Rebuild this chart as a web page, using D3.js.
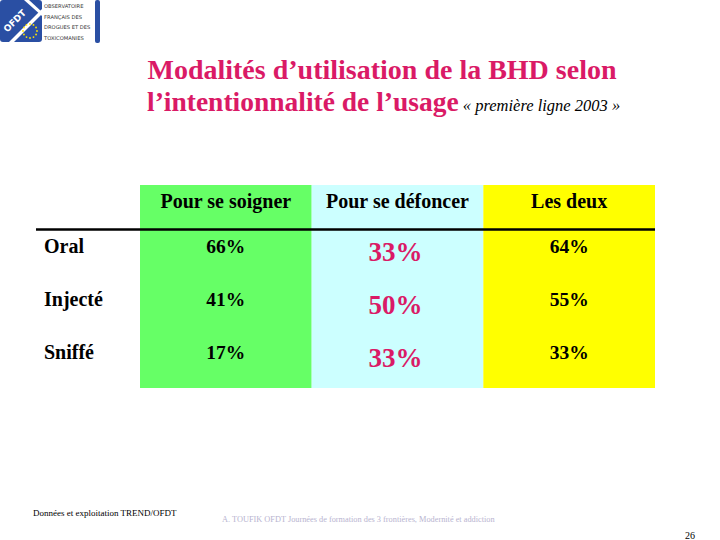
<!DOCTYPE html>
<html>
<head>
<meta charset="utf-8">
<script src="https://cdn.jsdelivr.net/npm/d3@7"></script>
<style>
  html, body { margin: 0; padding: 0; background: #fff; }
  svg { display: block; }
  .serif { font-family: "Liberation Serif", "DejaVu Serif", serif; }
  .sans { font-family: "DejaVu Sans", sans-serif; }
</style>
</head>
<body>
<svg id="chart" width="720" height="540"></svg>
<script>
// ---- Data ----
const columns = ["Pour se soigner", "Pour se défoncer", "Les deux"];
const rowLabels = ["Oral", "Injecté", "Sniffé"];
const soigner = [66, 41, 17];
const defoncer = [33, 50, 33];
const lesDeux = [64, 55, 33];
const columnColors = ["#66ff66", "#ccffff", "#ffff00"];
const titleLine1 = "Modalités d’utilisation de la BHD selon";
const titleLine2 = "l’intentionnalité de l’usage";
const titleNote = "« première ligne 2003 »";
const sourceNote = "Données et exploitation TREND/OFDT";
const footerNote = "A. TOUFIK OFDT Journées de formation des 3 frontières, Modernité et addiction";
const pageNumber = "26";
const logoLines = ["OBSERVATOIRE", "FRANÇAIS DES", "DROGUES ET DES", "TOXICOMANIES"];

const series = [soigner, defoncer, lesDeux];
const pink = "#da1a66";

const svg = d3.select("#chart");

// ---- Scales ----
const x = d3.scaleBand().domain(columns).range([140, 655]).paddingInner(0);
const y = d3.scaleBand().domain(rowLabels).range([229, 388]).paddingInner(0);
const headerTop = 185;

// ---- Column backgrounds ----
svg.selectAll("rect.col").data(columns).join("rect")
  .attr("class", "col")
  .attr("x", d => x(d))
  .attr("y", headerTop)
  .attr("width", x.bandwidth())
  .attr("height", y.range()[1] - headerTop)
  .attr("fill", (d, i) => columnColors[i]);

// ---- Header labels ----
svg.selectAll("text.head").data(columns).join("text")
  .attr("class", "head serif")
  .attr("x", d => x(d) + x.bandwidth() / 2)
  .attr("y", 208)
  .attr("text-anchor", "middle")
  .attr("font-weight", "bold")
  .attr("font-size", 20)
  .attr("fill", "#000")
  .text(d => d);

// ---- Header rule ----
svg.append("line")
  .attr("x1", 36).attr("x2", x.range()[1])
  .attr("y1", 229.5).attr("y2", 229.5)
  .attr("stroke", "#000").attr("stroke-width", 2.5);

// ---- Row labels ----
svg.selectAll("text.rowlab").data(rowLabels).join("text")
  .attr("class", "rowlab serif")
  .attr("x", 44)
  .attr("y", d => y(d) + 24)
  .attr("font-weight", "bold")
  .attr("font-size", 20)
  .attr("fill", "#000")
  .text(d => d);

// ---- Cell values ----
const cells = [];
series.forEach((vals, ci) => {
  vals.forEach((v, ri) => cells.push({ col: columns[ci], row: rowLabels[ri], v, ci }));
});
svg.selectAll("text.cell").data(cells).join("text")
  .attr("class", "cell serif")
  .attr("x", d => x(d.col) + x.bandwidth() / 2 + (d.ci === 1 ? -2 : 0))
  .attr("y", d => y(d.row) + (d.ci === 1 ? 32 : 24))
  .attr("text-anchor", "middle")
  .attr("font-weight", "bold")
  .attr("font-size", d => d.ci === 1 ? 27 : 19.5)
  .attr("fill", d => d.ci === 1 ? pink : "#000")
  .text(d => d.v + "%");

// ---- Title ----
svg.append("text")
  .attr("class", "serif")
  .attr("x", 382).attr("y", 79)
  .attr("text-anchor", "middle")
  .attr("font-weight", "bold").attr("font-size", 28)
  .attr("fill", pink)
  .text(titleLine1);
const t2 = svg.append("text")
  .attr("class", "serif")
  .attr("x", 147).attr("y", 111);
t2.append("tspan").attr("font-weight", "bold").attr("font-size", 27.5).attr("fill", pink).text(titleLine2);
t2.append("tspan").attr("font-style", "italic").attr("font-size", 16.5).attr("fill", "#000").text(" " + titleNote);

// ---- Logo ----
const logo = svg.append("g");
logo.append("rect").attr("x", 0).attr("y", 0).attr("width", 42).attr("height", 42).attr("rx", 3).attr("fill", "#2a4fa3");
logo.append("path").attr("d", "M9,42 L42,9 L42,14 L14,42 Z").attr("fill", "#fff");
logo.append("path").attr("d", "M24,0 L29,0 L42,12 L42,16 Z").attr("fill", "#fff");
logo.append("text").attr("class", "sans").attr("transform", "translate(17,23) rotate(-45)")
  .attr("font-weight", "bold").attr("font-size", 9)
  .attr("fill", "#fff").attr("text-anchor", "middle").text("OFDT");
const starCx = 30, starCy = 31, starR = 7;
d3.range(12).forEach(i => {
  const a = i / 12 * 2 * Math.PI;
  logo.append("circle").attr("cx", starCx + starR * Math.cos(a)).attr("cy", starCy + starR * Math.sin(a))
    .attr("r", 0.9).attr("fill", "#ffe600");
});
logoLines.forEach((l, i) => {
  logo.append("text").attr("class", "sans").attr("x", 44).attr("y", 8 + i * 10.5)
    .attr("font-size", 5.2).attr("fill", "#333")
    .text(l);
});
logo.append("rect").attr("x", 95).attr("y", 0).attr("width", 5).attr("height", 43).attr("rx", 2).attr("fill", "#2a4fa3");

// ---- Footer ----
svg.append("text").attr("class", "serif").attr("x", 33).attr("y", 516)
  .attr("font-size", 9).attr("fill", "#000").text(sourceNote);
svg.append("text").attr("class", "serif").attr("x", 222).attr("y", 522)
  .attr("font-size", 8.3).attr("fill", "#b8b4d0").text(footerNote);
svg.append("text").attr("class", "serif").attr("x", 685).attr("y", 539)
  .attr("font-size", 10).attr("fill", "#000").text(pageNumber);
</script>
</body>
</html>
